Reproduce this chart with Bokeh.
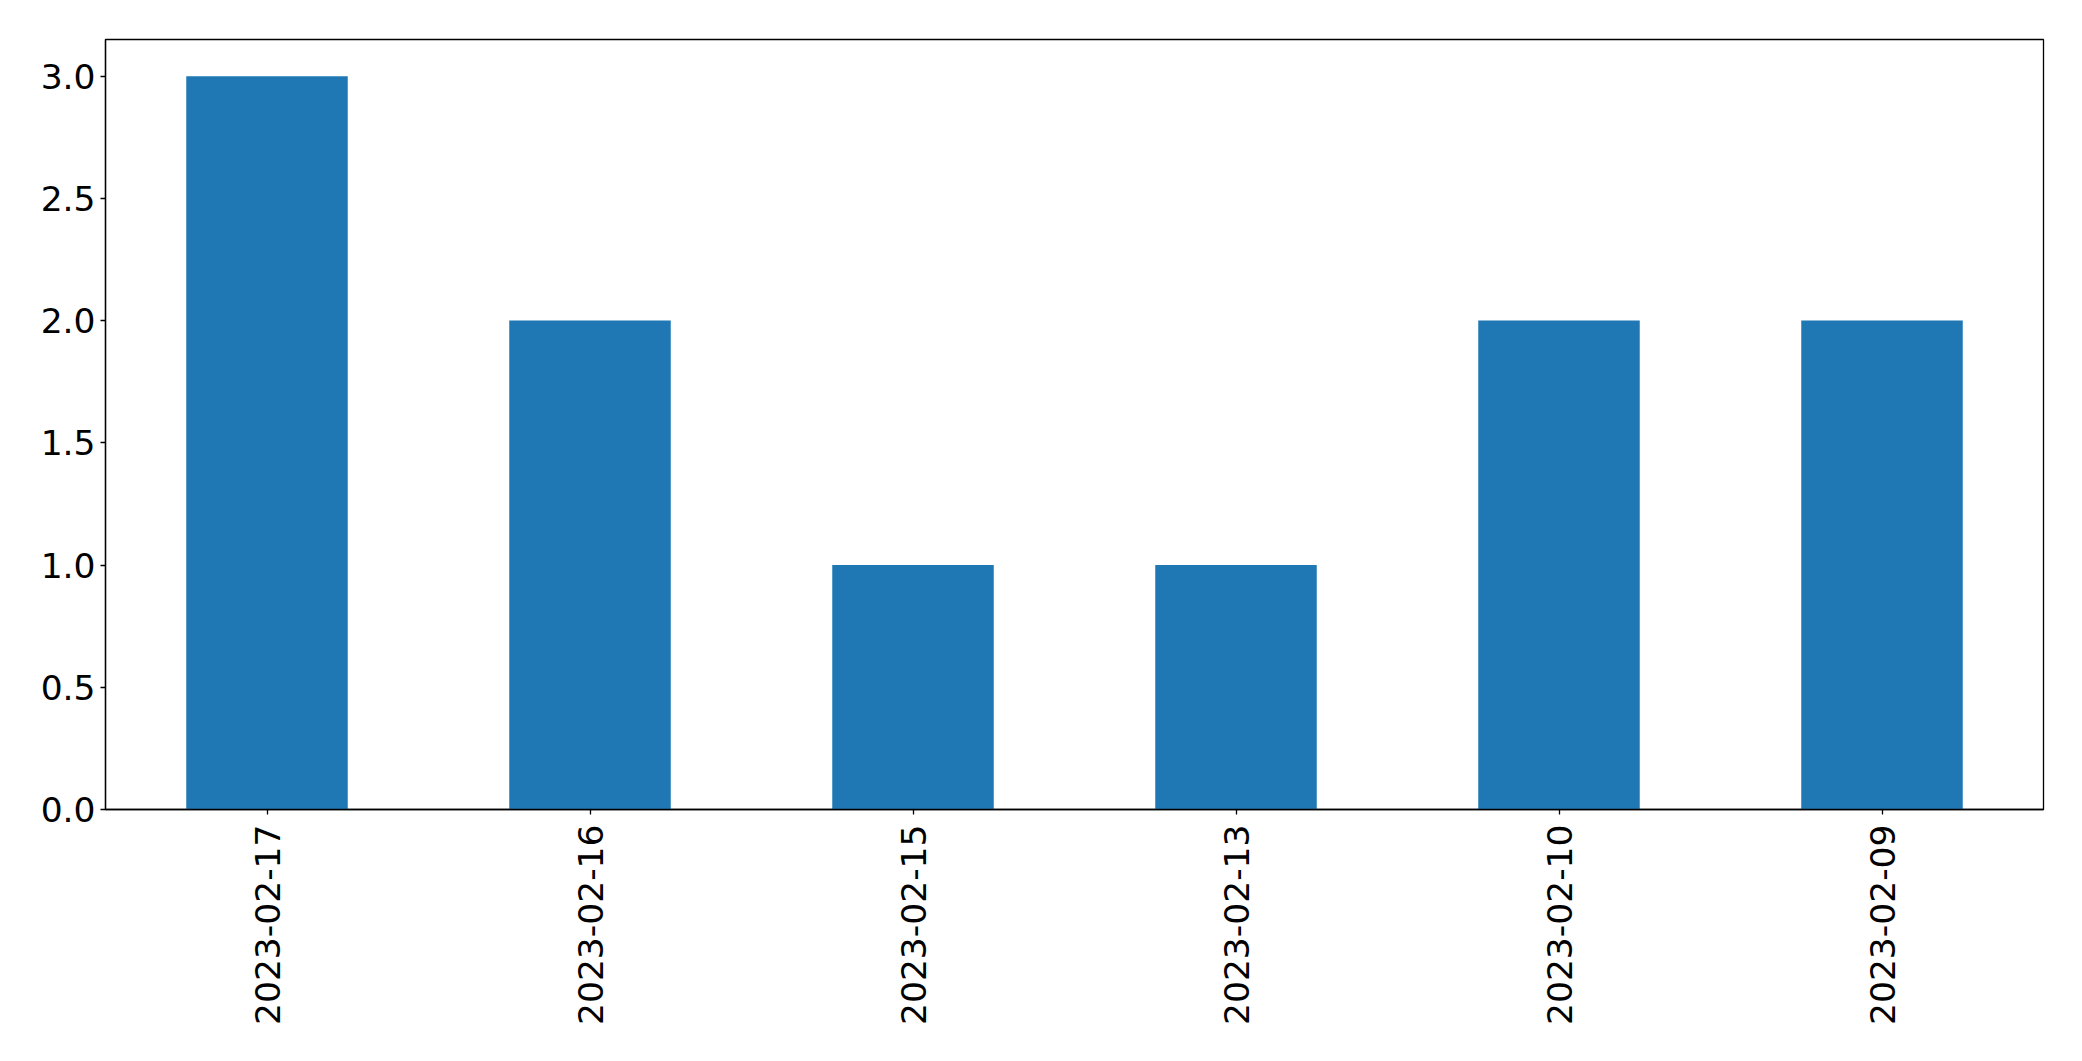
from bokeh.plotting import figure
from bokeh.models import FixedTicker, PrintfTickFormatter, FactorRange, Range1d
from bokeh.embed import file_html
from bokeh.resources import INLINE
import math

dates = ["2023-02-17", "2023-02-16", "2023-02-15", "2023-02-13", "2023-02-10", "2023-02-09"]
counts = [3, 2, 1, 1, 2, 2]
y_ticks = [0.0, 0.5, 1.0, 1.5, 2.0, 2.5, 3.0]

p = figure(x_range=FactorRange(factors=dates, range_padding=0), y_range=Range1d(0, 3.15),
           width=2066, height=1045, output_backend="svg", toolbar_location=None,
           min_border_left=105, min_border_right=23, min_border_top=39, min_border_bottom=236)

p.vbar(x=dates, top=counts, width=0.5, fill_color="#1f77b4", line_color=None)

p.xgrid.visible = False
p.ygrid.visible = False
p.outline_line_color = "black"
p.outline_line_width = 1.3
p.outline_line_alpha = 1

for ax in (p.xaxis[0], p.yaxis[0]):
    ax.axis_line_color = "black"
    ax.axis_line_width = 1.3
    ax.major_tick_line_color = "black"
    ax.major_tick_line_width = 1.3
    ax.major_tick_out = 5
    ax.major_tick_in = 0
    ax.minor_tick_line_color = None
    ax.major_label_text_font = "DejaVu Sans"
    ax.major_label_text_font_size = "34.5px"
    ax.major_label_text_color = "black"

p.yaxis.ticker = FixedTicker(ticks=y_ticks)
p.yaxis.formatter = PrintfTickFormatter(format="%.1f")
p.yaxis.major_label_standoff = 5
p.xaxis.major_label_orientation = math.pi / 2
p.xaxis.major_label_standoff = 10

open("out.html", "w").write(file_html(p, INLINE))
